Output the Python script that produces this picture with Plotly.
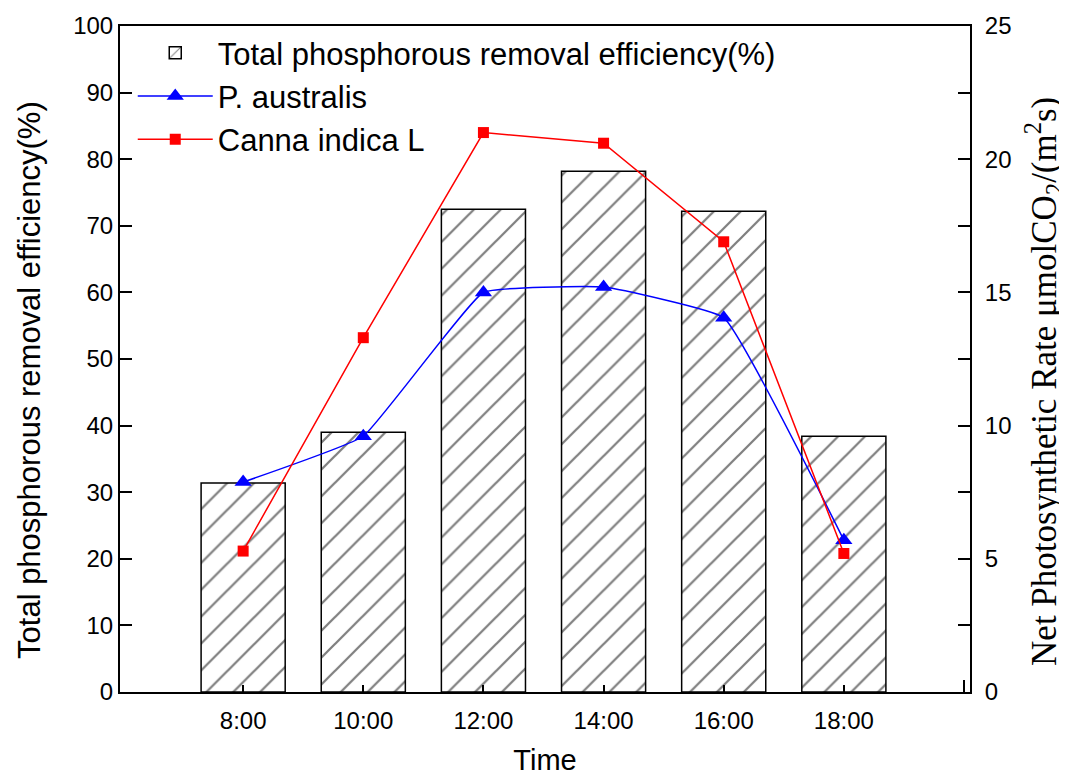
import plotly.graph_objects as go

# Data
time_labels = ["8:00", "10:00", "12:00", "14:00", "16:00", "18:00"]
hours = [8, 10, 12, 14, 16, 18]
tp_removal = [31.4, 39.0, 72.5, 78.2, 72.2, 38.4]
p_australis = [7.88, 9.6, 15.0, 15.2, 14.05, 5.7]
canna_indica = [5.29, 13.3, 21.0, 20.6, 16.9, 5.2]

left_title = "Total phosphorous removal efficiency(%)"
right_title = "Net Photosynthetic Rate μmolCO<sub>2</sub>/(m<sup>2</sup>s)"

fig = go.Figure()

fig.add_trace(go.Bar(
    x=hours, y=tp_removal, width=1.4,
    name="Total phosphorous removal efficiency(%)",
    marker=dict(color="white",
                line=dict(color="black", width=1.5),
                pattern=dict(shape="/", fgcolor="black", bgcolor="white",
                             size=19, solidity=0.12)),
    legendgroup="g1",
))

fig.add_trace(go.Scatter(
    x=hours, y=p_australis, yaxis="y2", mode="lines+markers",
    name="P. australis",
    line=dict(color="#0000FF", width=1.5, shape="spline", smoothing=0.3),
    marker=dict(symbol="triangle-up", size=15, color="#0000FF"),
    legendgroup="g2",
))

fig.add_trace(go.Scatter(
    x=hours, y=canna_indica, yaxis="y2", mode="lines+markers",
    name="Canna indica L",
    line=dict(color="#FF0000", width=1.5),
    marker=dict(symbol="square", size=11, color="#FF0000"),
    legendgroup="g3",
))

axis_font = dict(family="Liberation Sans, Arial", size=24, color="black")

fig.update_layout(
    width=1067, height=776,
    margin=dict(l=112, r=105, t=18, b=92),
    paper_bgcolor="white", plot_bgcolor="white",
    font=dict(family="Liberation Sans, Arial", color="black"),
    showlegend=True,
    legend=dict(x=0.015, y=1.0, xanchor="left", yanchor="top",
                font=dict(size=31, family="Liberation Sans, Arial"),
                bgcolor="rgba(0,0,0,0)", traceorder="grouped",
                tracegroupgap=0, itemwidth=75),
    xaxis=dict(
        range=[5.95, 20.1], automargin=False,
        tickmode="array", tickvals=hours, ticktext=time_labels,
        ticks="inside", ticklen=7, tickwidth=1.5, tickcolor="black",
        minor=dict(tickmode="array", tickvals=[20], ticks="inside",
                   ticklen=12, tickwidth=1.5, tickcolor="black"),
        showline=True, linecolor="black", linewidth=2, mirror=True,
        showgrid=False, zeroline=False,
        tickfont=axis_font, ticklabelstandoff=6,
        title=dict(text="Time", font=dict(size=29), standoff=17),
    ),
    yaxis=dict(
        range=[0, 100], dtick=10, automargin=False,
        ticks="inside", ticklen=12, tickwidth=1.5, tickcolor="black",
        showline=True, linecolor="black", linewidth=2,
        showgrid=False, zeroline=False,
        tickfont=axis_font,
    ),
    yaxis2=dict(
        range=[0, 25], dtick=5, overlaying="y", side="right", automargin=False,
        ticks="inside", ticklen=12, tickwidth=1.5, tickcolor="black",
        minor=dict(dtick=2.5, ticks="inside", ticklen=12, tickwidth=1.5,
                   tickcolor="black"),
        showline=True, linecolor="black", linewidth=2,
        showgrid=False, zeroline=False,
        tickfont=axis_font, ticklabelstandoff=8,
    ),
    annotations=[
        dict(text=left_title, xref="paper", yref="paper",
             x=-0.1059, y=0.4685, xanchor="center", yanchor="middle",
             textangle=-90, showarrow=False,
             font=dict(size=31, family="Liberation Sans, Arial", color="black")),
        dict(text=right_title, xref="paper", yref="paper",
             x=1.087, y=0.467, xanchor="center", yanchor="middle",
             textangle=-90, showarrow=False,
             font=dict(size=35, family="Liberation Serif, Times New Roman",
                       color="black")),
    ],
)

fig.write_html("out.html")
